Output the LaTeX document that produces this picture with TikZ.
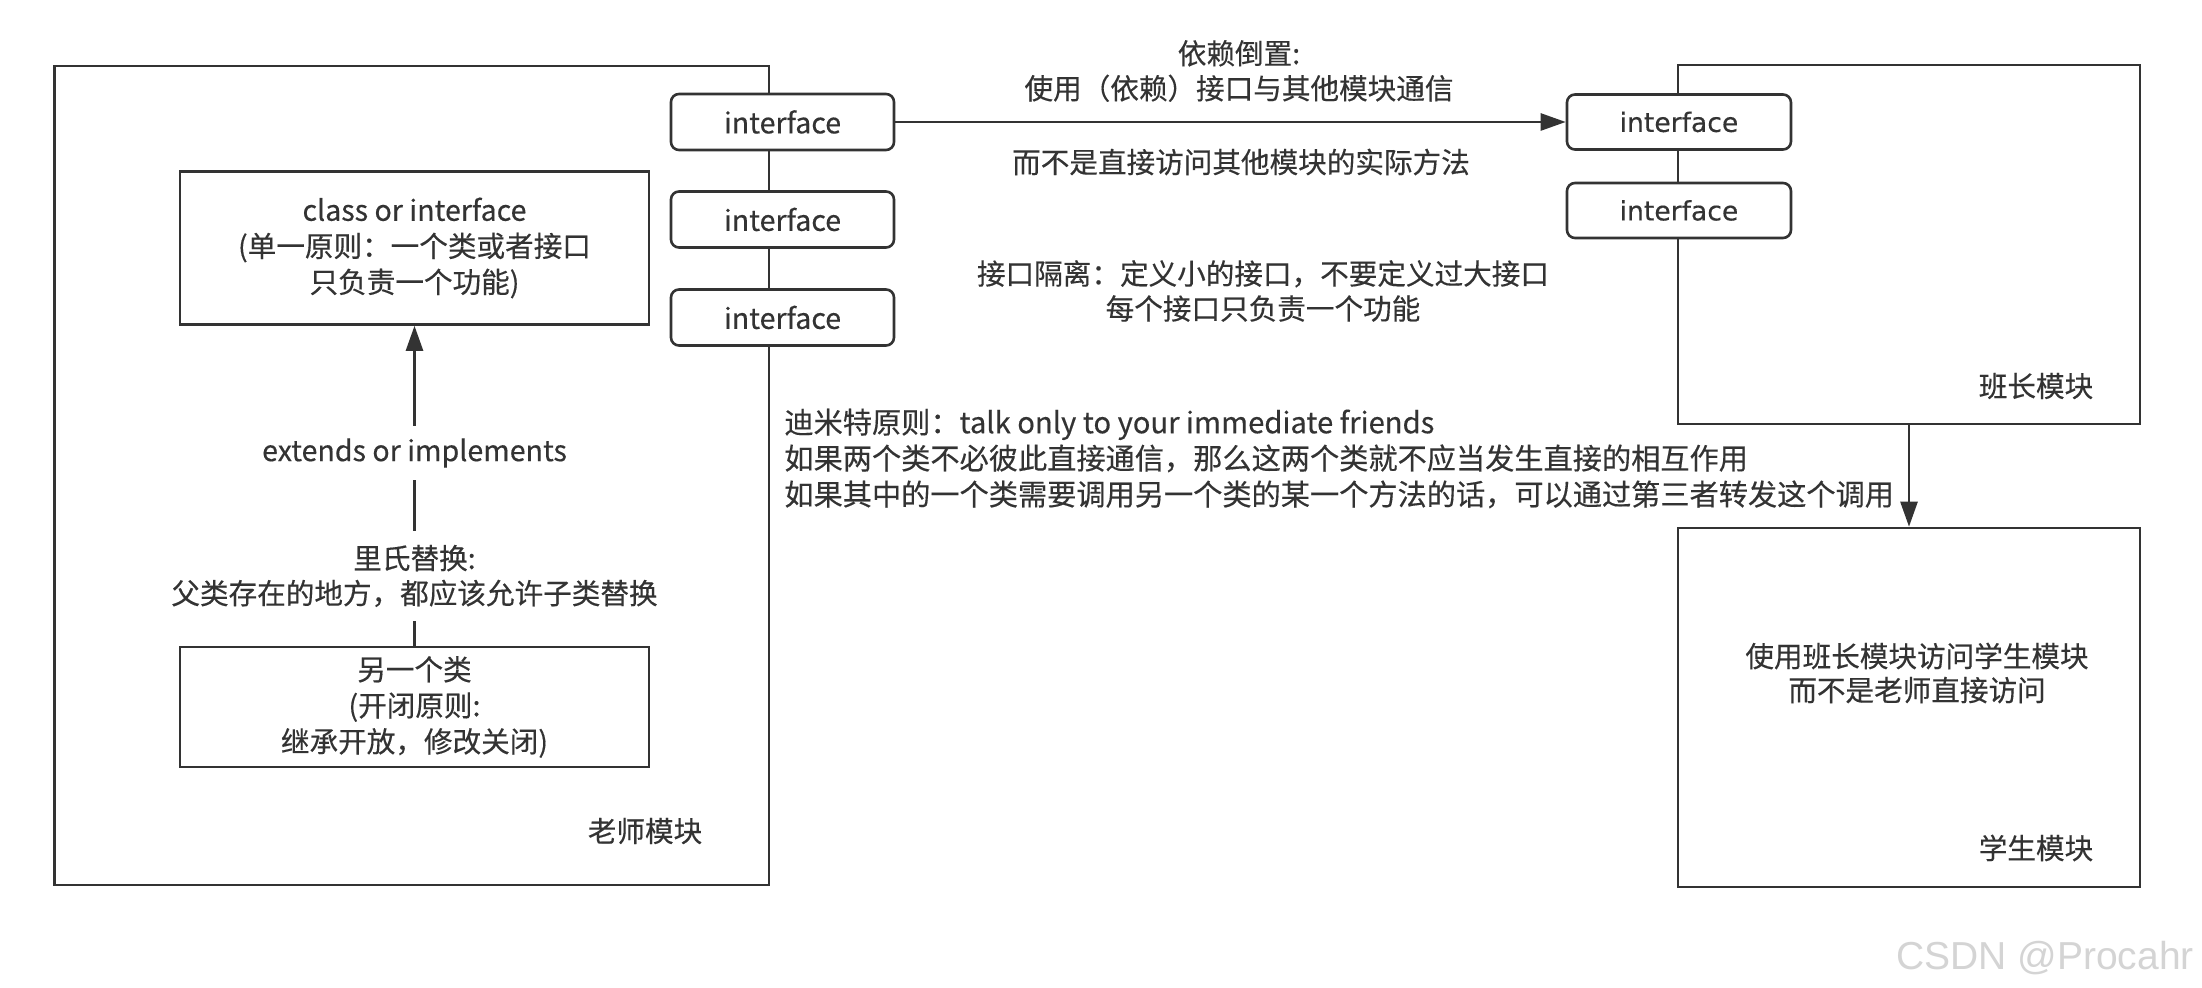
\documentclass[tikz,border=0pt]{standalone}
\usepackage{fontspec}
\setmainfont{Noto Sans CJK SC}[FakeBold=0.35]
\newfontfamily\widefont{DejaVu Sans}[FakeBold=0.3]
\newfontfamily\markfont{Liberation Sans}
\usetikzlibrary{arrows.meta}
\definecolor{ink}{HTML}{333333}
\definecolor{wmark}{HTML}{D4D4D4}
\begin{document}
\begin{tikzpicture}[x=0.5pt,y=-0.5pt,
  line/.style={draw=ink, line width=1.3pt},
  box/.style={line, fill=white, inner sep=0pt, text=ink, align=center,
    font=\fontsize{14.3}{18}\selectfont},
  iface/.style={box, rounded corners=4pt, minimum width=111.5pt, minimum height=28pt},
  txt/.style={text=ink, align=center, font=\fontsize{14.3}{17.5}\selectfont, inner sep=0pt},
  arr/.style={line, -{Triangle[length=12.5pt,width=8.5pt]}},
]
\useasboundingbox (0,0) rectangle (2202,988);
\fill[white] (0,0) rectangle (2202,988);

% teacher module with its interfaces on the right edge
\node[box, minimum width=357.25pt, minimum height=409.5pt] (teacher) at (411.75,475.5) {};
\node[iface] (li1) at (782.5,122) {interface};
\node[iface] (li2) at (782.5,219.5) {interface};
\node[iface] (li3) at (782.5,317.5) {interface};

\node[box, minimum width=234.5pt, minimum height=76.5pt] (cls) at (414.5,248)
  {class or interface\\(单一原则：一个类或者接口\\只负责一个功能)};
\node[box, minimum width=234.5pt, minimum height=60pt] (other) at (414.5,707)
  {另一个类\\(开闭原则:\\继承开放，修改关闭)};
\draw[arr] (other.north) -- (cls.south);
\node[txt, fill=white, inner xsep=3pt, inner ysep=6pt] (ext) at (414.5,453) {extends or implements};
\node[txt, fill=white, inner xsep=3pt, inner ysep=7pt] (lsp) at (414.5,576)
  {里氏替换:\\父类存在的地方，都应该允许子类替换};
\node[txt] (tlabel) at (645,831) {老师模块};

% monitor module
\node[box, minimum width=231pt, minimum height=179.5pt] (monitor) at (1909,244.5) {};
\node[iface, minimum width=112pt, minimum height=27.5pt, font=\widefont\fontsize{13.3}{16}\selectfont] (ri1) at (1679,122) {interface};
\node[iface, minimum width=112pt, minimum height=27.5pt, font=\widefont\fontsize{13.3}{16}\selectfont] (ri2) at (1679,210.5) {interface};
\node[txt] (mlabel) at (2036,386) {班长模块};

% student module
\node[box, minimum width=231pt, minimum height=179.5pt] (student) at (1909,707.5) {};
\node[txt, font=\fontsize{14.3}{17}\selectfont] (stext) at (1917,673)
  {使用班长模块访问学生模块\\而不是老师直接访问};
\node[txt] (slabel) at (2036,848) {学生模块};
\draw[arr] (monitor.south) -- (student.north);

% dependency inversion
\draw[arr] (li1.east) -- (ri1.west);
\node[txt] (dip) at (1239,71) {依赖倒置:\\使用（依赖）接口与其他模块通信};
\node[txt] (dip2) at (1241,162) {而不是直接访问其他模块的实际方法};

% interface segregation
\node[txt] (isp) at (1263,291) {接口隔离：定义小的接口，不要定义过大接口\\每个接口只负责一个功能};

% law of Demeter
\node[txt, align=left, anchor=west, font=\fontsize{14.6}{18}\selectfont] (lod) at (784,458.5)
  {迪米特原则：talk only to your immediate friends\\
   如果两个类不必彼此直接通信，那么这两个类就不应当发生直接的相互作用\\
   如果其中的一个类需要调用另一个类的某一个方法的话，可以通过第三者转发这个调用};

\node[text=wmark, inner sep=0pt, anchor=west, font=\markfont\fontsize{19.5}{20}\selectfont] (wm) at (1896,958) {CSDN @Procahr};
\end{tikzpicture}
\end{document}
